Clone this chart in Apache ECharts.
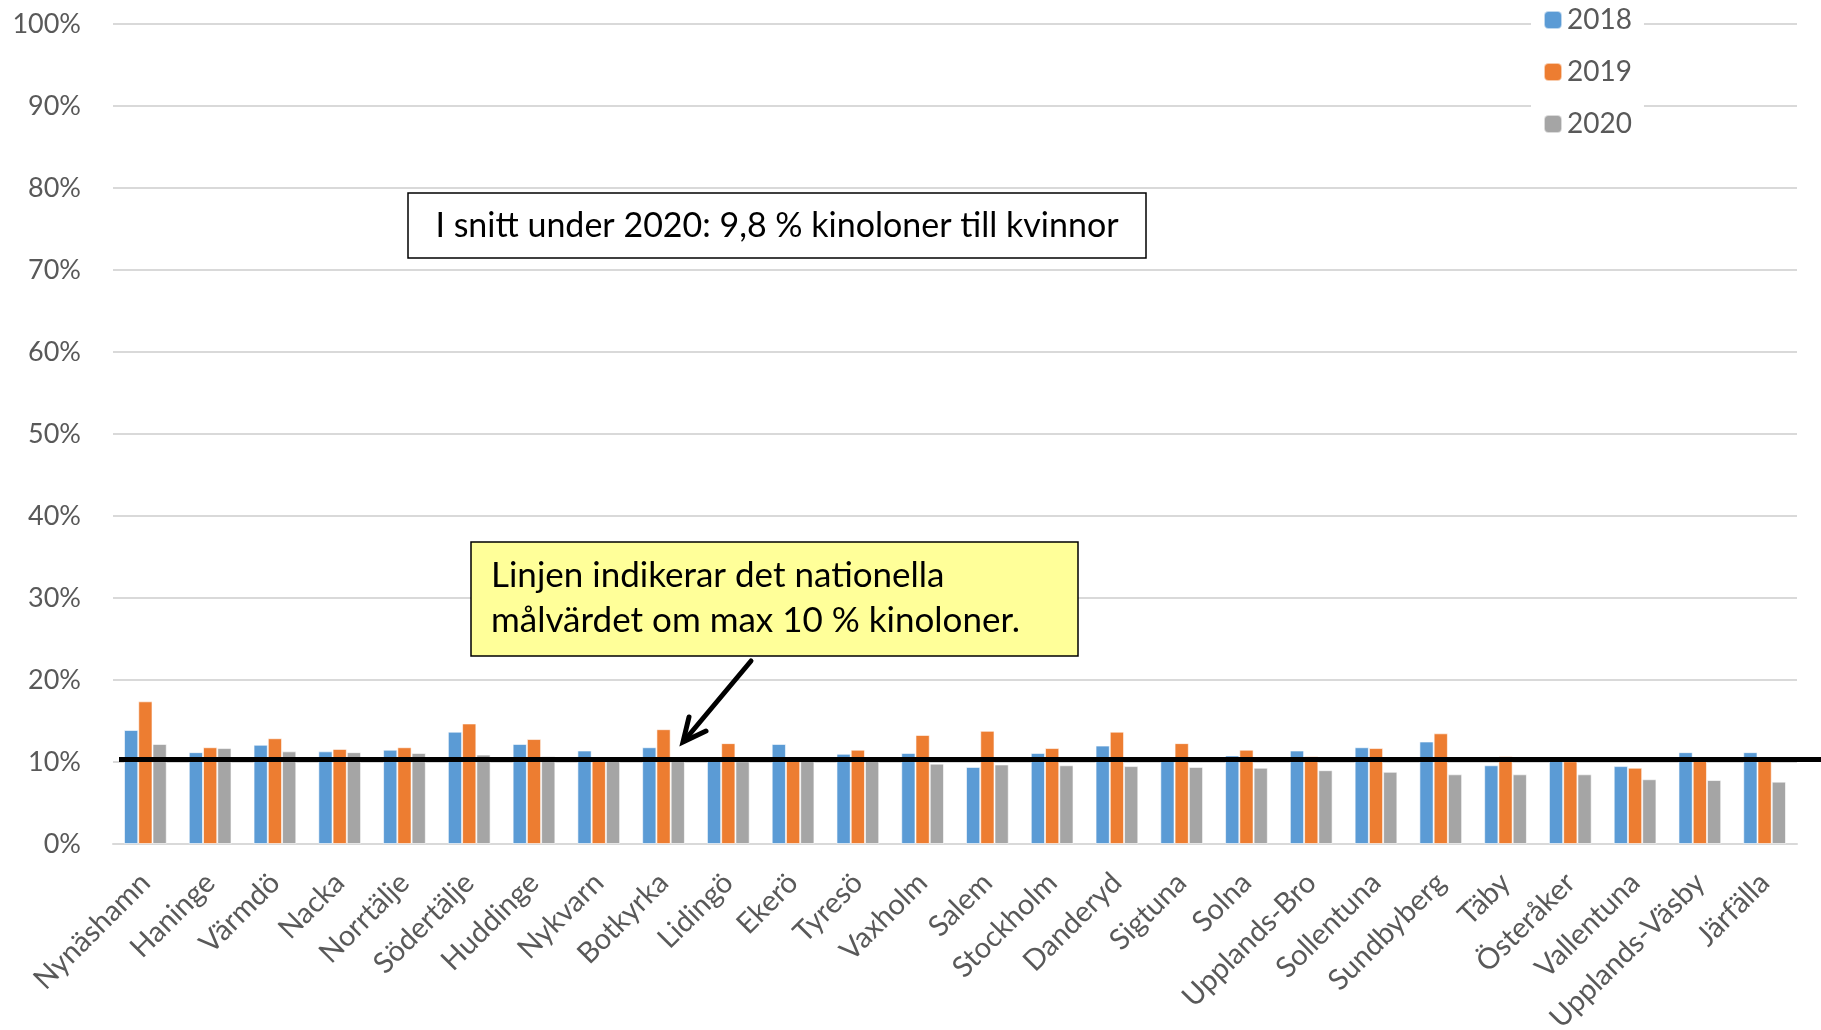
<!DOCTYPE html>
<html>
<head>
    <meta charset="utf-8" />
    <title>Kinoloner till kvinnor</title>
    <script src="https://cdn.jsdelivr.net/npm/echarts@6.0.0/dist/echarts.min.js"></script>
    <style>
        html, body { margin: 0; padding: 0; background: #fff; }
    </style>
</head>
<body>
<div id="main" style="width: 1821px;height:1030px;"></div>
<script type="text/javascript">
    var kommuner = ['Nynäshamn', 'Haninge', 'Värmdö', 'Nacka', 'Norrtälje', 'Södertälje', 'Huddinge', 'Nykvarn',
        'Botkyrka', 'Lidingö', 'Ekerö', 'Tyresö', 'Vaxholm', 'Salem', 'Stockholm', 'Danderyd', 'Sigtuna', 'Solna',
        'Upplands-Bro', 'Sollentuna', 'Sundbyberg', 'Täby', 'Österåker', 'Vallentuna', 'Upplands-Väsby', 'Järfälla'];
    var ar2018 = [13.9, 11.2, 12.1, 11.3, 11.5, 13.7, 12.2, 11.4, 11.8, 10.2, 12.2, 11.0, 11.1, 9.4, 11.1, 12.0, 10.2,
        10.8, 11.4, 11.8, 12.5, 9.6, 10.2, 9.5, 11.2, 11.2];
    var ar2019 = [17.4, 11.8, 12.9, 11.6, 11.8, 14.7, 12.8, 10.3, 14.0, 12.3, 10.3, 11.5, 13.3, 13.8, 11.7, 13.7, 12.3,
        11.5, 10.7, 11.7, 13.5, 10.7, 10.1, 9.3, 10.6, 10.3];
    var ar2020 = [12.2, 11.7, 11.3, 11.2, 11.1, 10.9, 10.7, 10.2, 10.2, 10.1, 10.2, 10.2, 9.8, 9.7, 9.6, 9.5, 9.4,
        9.3, 9.0, 8.8, 8.5, 8.5, 8.5, 7.9, 7.8, 7.6];
    // nationellt målvärde (linjen ritad i originalet ligger strax över 10 %)
    var malvarde = 10.3;

    var font = 'Lato, "Open Sans", sans-serif';
    var myChart = echarts.init(document.getElementById('main'));

    var option = {
        animation: false,
        textStyle: { fontFamily: font },
        color: ['#5B9BD5', '#ED7D31', '#A5A5A5'],
        grid: { left: 113, right: 24, top: 24, bottom: 186, containLabel: false, outerBoundsMode: 'none' },
        legend: {
            orient: 'vertical',
            left: 1531,
            top: 4,
            padding: [2, 12, 2, 12],
            backgroundColor: '#fff',
            itemWidth: 18,
            itemHeight: 18,
            itemGap: 24,
            textStyle: { fontSize: 28, color: '#595959', fontFamily: font },
            data: ['2018', '2019', '2020']
        },
        xAxis: {
            type: 'category',
            data: kommuner,
            axisLine: { lineStyle: { color: '#D9D9D9', width: 2 } },
            axisTick: { show: false },
            axisLabel: {
                interval: 0,
                rotate: 45,
                margin: 34,
                fontSize: 29,
                color: '#595959'
            }
        },
        yAxis: {
            type: 'value',
            min: 0,
            max: 100,
            interval: 10,
            axisLine: { show: false },
            axisTick: { show: false },
            splitLine: { lineStyle: { color: '#D9D9D9', width: 2 } },
            axisLabel: {
                formatter: '{value}%',
                margin: 32,
                fontSize: 27,
                color: '#595959'
            }
        },
        series: [
            { name: '2018', type: 'bar', data: ar2018, barGap: '0%', barCategoryGap: '34%',
              itemStyle: { borderColor: 'rgba(255,255,255,0.6)', borderWidth: 1 } },
            { name: '2019', type: 'bar', data: ar2019,
              itemStyle: { borderColor: 'rgba(255,255,255,0.6)', borderWidth: 1 } },
            { name: '2020', type: 'bar', data: ar2020,
              itemStyle: { borderColor: 'rgba(255,255,255,0.6)', borderWidth: 1 } }
        ]
    };
    myChart.setOption(option);

    // linjen för målvärdet + textrutor och pil
    var yLinje = myChart.convertToPixel({ yAxisIndex: 0 }, malvarde);
    myChart.setOption({
        graphic: [
            {
                type: 'line', z: 100,
                shape: { x1: 119, y1: yLinje, x2: 1821, y2: yLinje },
                style: { stroke: '#000', lineWidth: 5 }
            },
            {
                type: 'group', z: 100,
                children: [
                    { type: 'rect', shape: { x: 408, y: 193, width: 738, height: 65 },
                      style: { fill: '#fff', stroke: '#000', lineWidth: 1.5 } },
                    { type: 'text', x: 777, y: 226,
                      style: { text: 'I snitt under 2020: 9,8 % kinoloner till kvinnor', fill: '#000',
                               font: '34px ' + font, align: 'center', verticalAlign: 'middle' } }
                ]
            },
            {
                type: 'group', z: 100,
                children: [
                    { type: 'rect', shape: { x: 471, y: 542, width: 607, height: 114 },
                      style: { fill: '#FFFF99', stroke: '#000', lineWidth: 1.5 } },
                    { type: 'text', x: 491, y: 576,
                      style: { text: 'Linjen indikerar det nationella', fill: '#000',
                               font: '35px ' + font, align: 'left', verticalAlign: 'middle' } },
                    { type: 'text', x: 491, y: 621,
                      style: { text: 'målvärdet om max 10 % kinoloner.', fill: '#000',
                               font: '35px ' + font, align: 'left', verticalAlign: 'middle' } }
                ]
            },
            {
                type: 'polyline', z: 100,
                shape: { points: [[751, 661], [684, 741]] },
                style: { stroke: '#000', lineWidth: 5, lineCap: 'round' }
            },
            {
                type: 'polyline', z: 100,
                shape: { points: [[689, 717], [683, 742], [706, 731]] },
                style: { stroke: '#000', lineWidth: 5, lineCap: 'round', lineJoin: 'miter', fill: null }
            }
        ]
    });
</script>
</body>
</html>
